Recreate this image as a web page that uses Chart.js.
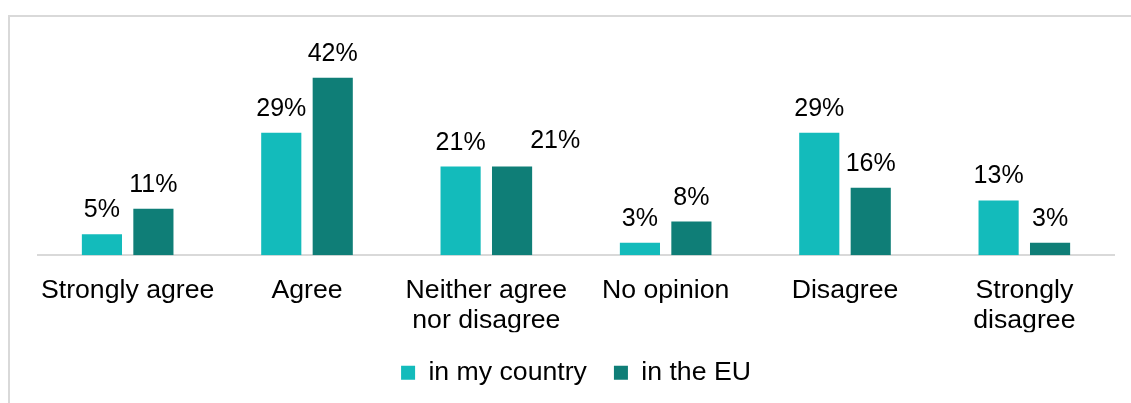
<!DOCTYPE html>
<html>
<head>
<meta charset="utf-8">
<script src="https://cdn.jsdelivr.net/npm/chart.js@4/dist/chart.umd.min.js"></script>
<style>
  html, body { margin: 0; padding: 0; background: #fff; overflow: hidden; }
  #wrap { position: relative; width: 1131px; height: 403px; }
  #frame {
    position: absolute; left: 8px; top: 15px; width: 1200px; height: 500px;
    border-top: 2px solid #d9d9d9; border-left: 2px solid #d9d9d9;
  }
  canvas { position: absolute; left: 0; top: 0; }
</style>
</head>
<body>
<div id="wrap">
  <div id="frame"></div>
  <canvas id="c" width="1131" height="403"></canvas>
</div>
<script>
// Answer categories (multi-line labels as arrays)
const categories = [
  'Strongly agree',
  'Agree',
  ['Neither agree', 'nor disagree'],
  'No opinion',
  'Disagree',
  ['Strongly', 'disagree']
];
const seriesNames = ['in my country', 'in the EU'];
const inMyCountry = [5, 29, 21, 3, 29, 13];
const inTheEU = [11, 42, 21, 8, 16, 3];

const FONT = '"Liberation Sans", Arial, sans-serif';
const LABEL_SIZE = 25;

// Writes "NN%" above every bar; when two labels in a group would collide,
// the second one is moved off to the right of its bar.
const valueLabels = {
  id: 'valueLabels',
  afterDatasetsDraw(chart) {
    const ctx = chart.ctx;
    ctx.save();
    ctx.font = LABEL_SIZE + 'px ' + FONT;
    ctx.fillStyle = '#000';
    ctx.textBaseline = 'alphabetic';
    ctx.textAlign = 'left';
    const n = chart.data.labels.length;
    for (let i = 0; i < n; i++) {
      let prev = null;
      chart.data.datasets.forEach((ds, di) => {
        const bar = chart.getDatasetMeta(di).data[i];
        const text = ds.data[i] + '%';
        const w = ctx.measureText(text).width;
        let left = bar.x - w / 2;
        let y = bar.y - 17;
        if (prev && Math.abs(prev.y - y) < LABEL_SIZE && left < prev.right + 4) {
          left = bar.x + bar.width / 2 - 2;
          y -= 2;
        }
        ctx.fillText(text, left, y);
        prev = { right: left + w, y };
      });
    }
    ctx.restore();
  }
};

new Chart(document.getElementById('c'), {
  type: 'bar',
  data: {
    labels: categories,
    datasets: [
      { label: seriesNames[0], data: inMyCountry, backgroundColor: '#13bbbb' },
      { label: seriesNames[1], data: inTheEU, backgroundColor: '#0f7e77' }
    ]
  },
  options: {
    responsive: false,
    animation: false,
    devicePixelRatio: 1,
    layout: { padding: { left: 38, right: 17, top: 44, bottom: 7 } },
    datasets: { bar: { categoryPercentage: 0.574, barPercentage: 0.78 } },
    scales: {
      x: {
        grid: { display: false },
        border: { display: true, color: '#d9d9d9', width: 2 },
        ticks: {
          color: '#000',
          padding: 12,
          maxRotation: 0,
          autoSkip: false,
          font: { family: FONT, size: 26.67, lineHeight: 1.13 }
        },
        afterFit(scale) { scale.height = 77; }
      },
      y: {
        display: false,
        min: 0,
        max: 50
      }
    },
    plugins: {
      legend: {
        position: 'bottom',
        labels: {
          color: '#000',
          boxWidth: 14,
          boxHeight: 14,
          padding: 27,
          font: { family: FONT, size: 26.67 }
        }
      },
      tooltip: { enabled: false }
    }
  },
  plugins: [valueLabels]
});
</script>
</body>
</html>
